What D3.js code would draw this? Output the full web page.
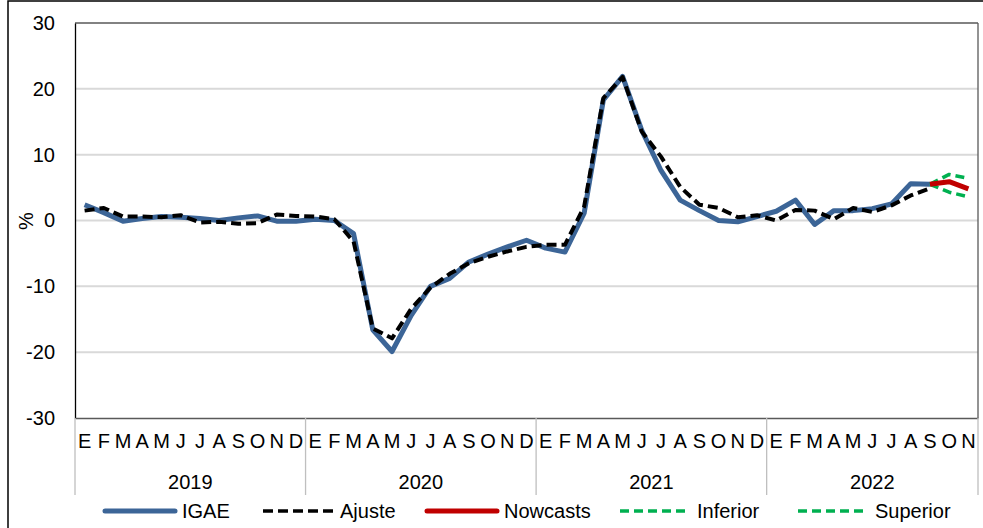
<!DOCTYPE html>
<html>
<head>
<meta charset="utf-8">
<script src="https://cdn.jsdelivr.net/npm/d3@7"></script>
<style>
  html, body { margin: 0; padding: 0; background: #fff; }
  svg { display: block; font-family: "Liberation Sans", Arial, sans-serif; }
</style>
</head>
<body>
<svg id="chart" width="983" height="528"></svg>
<script>
// ---- data ----
const years = ["2019", "2020", "2021", "2022"];
const monthLetters = ["E","F","M","A","M","J","J","A","S","O","N","D"];
const monthsPerYear = [12, 12, 12, 11];
const yTicks = [-30, -20, -10, 0, 10, 20, 30];

const igae = [
  2.4, 1.2, -0.1, 0.3, 0.6, 0.5, 0.3, 0.0, 0.4, 0.7, -0.1, -0.1,
  0.2, 0.0, -2.0, -16.6, -19.9, -14.4, -10.0, -8.8, -6.3, -5.1, -4.0, -3.0,
  -4.2, -4.8, 1.1, 18.3, 21.9, 13.7, 7.6, 3.1, 1.5, 0.0, -0.2, 0.6,
  1.4, 3.1, -0.6, 1.5, 1.5, 1.8, 2.5, 5.6, 5.5
];
const ajuste = [
  1.5, 1.9, 0.6, 0.6, 0.5, 0.8, -0.3, -0.2, -0.5, -0.4, 0.9, 0.7,
  0.6, 0.2, -3.2, -16.4, -17.9, -13.4, -10.2, -8.1, -6.5, -5.5, -4.7, -4.0,
  -3.7, -3.7, 2.1, 18.6, 21.8, 13.5, 9.7, 5.1, 2.4, 1.9, 0.5, 0.8,
  0.0, 1.6, 1.5, 0.2, 1.9, 1.3, 2.3, 3.8, 4.9
];
// forecasts start at index 44 (S 2022)
const forecastStart = 44;
const nowcasts = [5.5, 5.9, 4.8];
const inferior = [5.5, 4.3, 3.6];
const superior = [5.5, 7.0, 6.4];

const seriesNames = ["IGAE", "Ajuste", "Nowcasts", "Inferior", "Superior"];

// ---- build categories ----
const categories = [];
years.forEach((yr, yi) => {
  for (let m = 0; m < monthsPerYear[yi]; m++) {
    categories.push({ key: yr + "-" + m, month: monthLetters[m], year: yr });
  }
});

// ---- layout ----
const svg = d3.select("#chart");
const L = 75, R = 978, T = 23, B = 418;
const x = d3.scaleBand().domain(categories.map(c => c.key)).range([L, R]).padding(0);
const y = d3.scaleLinear().domain([-30, 30]).range([B, T]);
const cx = i => x(categories[i].key) + x.bandwidth() / 2;

// outer frame
svg.append("rect").attr("x", 8).attr("y", 1).attr("width", 1000).attr("height", 600)
  .attr("fill", "none").attr("stroke", "#000").attr("stroke-width", 1.5);

// gridlines
svg.append("g").selectAll("line").data(yTicks.filter(t => t !== -30 && t !== 30)).join("line")
  .attr("x1", L).attr("x2", R).attr("y1", d => y(d)).attr("y2", d => y(d))
  .attr("stroke", "#d9d9d9").attr("stroke-width", 2);

// plot border
svg.append("line").attr("x1", L).attr("x2", R).attr("y1", T).attr("y2", T)
  .attr("stroke", "#595959").attr("stroke-width", 1.3);
svg.append("line").attr("x1", R).attr("x2", R).attr("y1", T).attr("y2", B)
  .attr("stroke", "#595959").attr("stroke-width", 1.3);

// y axis
const yAxis = d3.axisLeft(y).tickValues(yTicks).tickSize(0).tickPadding(20)
  .tickFormat(d => String(d));
const gy = svg.append("g").attr("transform", `translate(${L},0)`).call(yAxis);
gy.select(".domain").attr("stroke", "#000").attr("stroke-width", 1.3);
gy.selectAll("text").attr("font-size", 20).attr("fill", "#000")
  .attr("font-family", "Liberation Sans, Arial, sans-serif");

// x axis (months)
const xAxis = d3.axisBottom(x).tickSize(0).tickPadding(16).tickFormat((d, i) => categories[i].month);
const gx = svg.append("g").attr("transform", `translate(0,${B})`).call(xAxis);
gx.select(".domain").attr("stroke", "#595959").attr("stroke-width", 1.3);
gx.selectAll("text").attr("font-size", 20).attr("fill", "#000")
  .attr("font-family", "Liberation Sans, Arial, sans-serif");

// year separators & labels
const yearBounds = [];
let idx = 0;
years.forEach((yr, yi) => {
  const start = x(categories[idx].key);
  const end = x(categories[idx + monthsPerYear[yi] - 1].key) + x.bandwidth();
  yearBounds.push({ yr, start, end });
  idx += monthsPerYear[yi];
});
const sepXs = [yearBounds[0].start, ...yearBounds.map(b => b.end)];
svg.append("g").selectAll("line").data(sepXs).join("line")
  .attr("x1", d => d).attr("x2", d => d).attr("y1", B).attr("y2", 495)
  .attr("stroke", "#bfbfbf").attr("stroke-width", 1.3);
svg.append("g").selectAll("text").data(yearBounds).join("text")
  .attr("x", d => (d.start + d.end) / 2).attr("y", 482)
  .attr("text-anchor", "middle").attr("dominant-baseline", "central")
  .attr("font-size", 20).attr("fill", "#000").text(d => d.yr);

// y label
svg.append("text").attr("transform", "translate(26,221) rotate(-90)")
  .attr("text-anchor", "middle").attr("dominant-baseline", "central")
  .attr("font-size", 20).attr("fill", "#000").text("%");

// lines
const line = d3.line().x(d => cx(d.i)).y(d => y(d.v));
const toPts = (arr, off) => arr.map((v, k) => ({ i: k + off, v }));

const styles = {
  IGAE: { color: "#3C6597", width: 5, dash: null },
  Ajuste: { color: "#000", width: 4, dash: "10,5" },
  Nowcasts: { color: "#C00000", width: 5, dash: null },
  Inferior: { color: "#00B050", width: 3.5, dash: "9,5" },
  Superior: { color: "#00B050", width: 3.5, dash: "9,5" }
};
const seriesData = {
  IGAE: toPts(igae, 0),
  Ajuste: toPts(ajuste, 0),
  Nowcasts: toPts(nowcasts, forecastStart),
  Inferior: toPts(inferior, forecastStart),
  Superior: toPts(superior, forecastStart)
};
["IGAE", "Ajuste", "Inferior", "Superior", "Nowcasts"].forEach(name => {
  const s = styles[name];
  svg.append("path").datum(seriesData[name]).attr("d", line)
    .attr("fill", "none").attr("stroke", s.color).attr("stroke-width", s.width)
    .attr("stroke-linejoin", "round")
    .attr("stroke-dasharray", s.dash);
});

// legend
const legendX = [105, 263, 427, 620, 798];
const lg = svg.append("g");
seriesNames.forEach((name, k) => {
  const s = styles[name];
  lg.append("line").attr("x1", legendX[k]).attr("x2", legendX[k] + 70)
    .attr("y1", 511).attr("y2", 511)
    .attr("stroke", s.color).attr("stroke-width", s.dash ? 3.5 : 5)
    .attr("stroke-linecap", s.dash ? "butt" : "round")
    .attr("stroke-dasharray", s.dash);
  lg.append("text").attr("x", legendX[k] + 77).attr("y", 511)
    .attr("dominant-baseline", "central").attr("font-size", 20).attr("fill", "#000")
    .text(name);
});
</script>
</body>
</html>
